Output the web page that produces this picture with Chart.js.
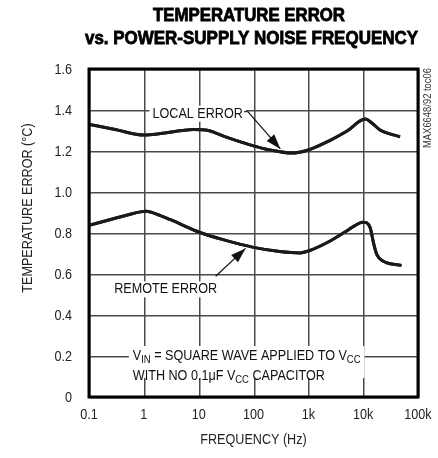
<!DOCTYPE html>
<html>
<head>
<meta charset="utf-8">
<script src="https://cdn.jsdelivr.net/npm/chart.js@4.4.1/dist/chart.umd.min.js"></script>
<style>
  html, body { margin: 0; padding: 0; background: #fff; }
  #wrap { width: 438px; height: 458px; }
</style>
</head>
<body>
<div id="wrap"><canvas id="errChart" width="438" height="458"></canvas></div>
<script>
// Values (frequency in Hz, error in degC)
var localFreq = [0.1, 0.3, 1, 2, 5, 8, 15, 30, 100, 200, 500, 1000, 2500, 5000, 10900, 14400, 20000, 47000];
var localErr  = [1.33, 1.305, 1.278, 1.285, 1.30, 1.305, 1.30, 1.27, 1.225, 1.205, 1.19, 1.205, 1.252, 1.296, 1.356, 1.337, 1.304, 1.269];

var remoteFreq = [0.1, 0.3, 0.5, 1.1, 2, 3, 10, 30, 100, 300, 700, 1000, 2500, 5000, 10000, 13400, 15400, 17700, 23000, 50000];
var remoteErr  = [0.837, 0.872, 0.888, 0.906, 0.885, 0.866, 0.805, 0.765, 0.73, 0.71, 0.703, 0.712, 0.761, 0.81, 0.853, 0.826, 0.753, 0.696, 0.663, 0.642];

var xTickValues = [0.1, 1, 10, 100, 1000, 10000, 100000];
var xTickLabels = ['0.1', '1', '10', '100', '1k', '10k', '100k'];
var yTickValues = [0, 0.2, 0.4, 0.6, 0.8, 1.0, 1.2, 1.4, 1.6];
var yTickLabels = ['0', '0.2', '0.4', '0.6', '0.8', '1.0', '1.2', '1.4', '1.6'];

var FONT = "'Liberation Sans', Arial, sans-serif";
var NARROW = 0.9;   // the original uses a narrow Helvetica

// Draw text squeezed horizontally; align is 'left' | 'center' | 'right'
function narrowText(ctx, text, x, y, font, align, sx, heavy) {
    ctx.save();
    ctx.font = font;
    var w = ctx.measureText(text).width * sx;
    var x0 = align === 'center' ? x - w / 2 : (align === 'right' ? x - w : x);
    ctx.translate(x0, y);
    ctx.scale(sx, 1);
    ctx.textAlign = 'left';
    ctx.fillText(text, 0, 0);
    if (heavy) {
        ctx.lineWidth = heavy;
        ctx.strokeStyle = ctx.fillStyle;
        ctx.strokeText(text, 0, 0);
    }
    ctx.restore();
    return w;
}

// Mixed normal/subscript text, left aligned
function drawRich(ctx, parts, x, y, size) {
    parts.forEach(function(p) {
        var s = p.sub ? size * 0.75 : size;
        x += narrowText(ctx, p.t, x, p.sub ? y + size * 0.3 : y, s + 'px ' + FONT, 'left', NARROW);
    });
    return x;
}

function richWidth(ctx, parts, size) {
    var w = 0;
    parts.forEach(function(p) {
        ctx.font = (p.sub ? size * 0.75 : size) + 'px ' + FONT;
        w += ctx.measureText(p.t).width * NARROW;
    });
    return w;
}

function arrow(ctx, x1, y1, x2, y2) {
    ctx.beginPath();
    ctx.moveTo(x1, y1);
    ctx.lineTo(x2, y2);
    ctx.lineWidth = 1.2;
    ctx.strokeStyle = '#111';
    ctx.stroke();
    var a = Math.atan2(y2 - y1, x2 - x1);
    var len = 15, half = 5;
    ctx.beginPath();
    ctx.moveTo(x2, y2);
    ctx.lineTo(x2 - len * Math.cos(a) + half * Math.sin(a), y2 - len * Math.sin(a) - half * Math.cos(a));
    ctx.lineTo(x2 - len * Math.cos(a) - half * Math.sin(a), y2 - len * Math.sin(a) + half * Math.cos(a));
    ctx.closePath();
    ctx.fillStyle = '#111';
    ctx.fill();
}

function whiteBox(ctx, x, y, w, h) {
    ctx.fillStyle = '#fff';
    ctx.fillRect(x, y, w, h);
}

// decade and 0.2 degC grid, as 1px strips
function drawGrid(chart) {
    var ctx = chart.ctx, a = chart.chartArea;
    var xs = chart.scales.x, ys = chart.scales.y;
    var top = Math.round(a.top), bottom = Math.round(a.bottom);
    var left = Math.round(a.left), right = Math.round(a.right);
    ctx.save();
    ctx.fillStyle = '#4a4a4a';
    xTickValues.forEach(function(v) {
        var px = Math.round(xs.getPixelForValue(v));
        ctx.fillRect(px, top, 1.5, bottom - top);
    });
    yTickValues.forEach(function(v) {
        var py = Math.round(ys.getPixelForValue(v));
        ctx.fillRect(left, py, right - left, 1.5);
    });
    ctx.restore();
}

function drawNotes(chart) {
    var ctx = chart.ctx;
    var xs = chart.scales.x, ys = chart.scales.y;
    var f14 = '14px ' + FONT;
    ctx.save();
    ctx.textBaseline = 'middle';

    // LOCAL ERROR label + arrow
    ctx.font = f14;
    var lx = xs.getPixelForValue(9.6), ly = ys.getPixelForValue(1.382);
    var lw = ctx.measureText('LOCAL ERROR').width * NARROW;
    whiteBox(ctx, lx - lw / 2 - 3, ly - 8, lw + 6, 16);
    ctx.fillStyle = '#111';
    narrowText(ctx, 'LOCAL ERROR', lx, ly, f14, 'center', NARROW);
    ctx.beginPath();
    ctx.moveTo(lx + lw / 2 + 1, ly - 2);
    ctx.lineTo(lx + lw / 2 + 5, ly - 2);
    ctx.lineWidth = 1;
    ctx.strokeStyle = '#111';
    ctx.stroke();
    arrow(ctx, lx + lw / 2 + 5, ly - 2, xs.getPixelForValue(309), ys.getPixelForValue(1.21));

    // REMOTE ERROR label + arrow
    ctx.font = f14;
    var rx = xs.getPixelForValue(2.5), ry = ys.getPixelForValue(0.525);
    var rw = ctx.measureText('REMOTE ERROR').width * NARROW;
    whiteBox(ctx, rx - rw / 2 - 3, ry - 8, rw + 6, 16);
    ctx.fillStyle = '#111';
    narrowText(ctx, 'REMOTE ERROR', rx, ry, f14, 'center', NARROW);
    arrow(ctx, xs.getPixelForValue(20.4), ys.getPixelForValue(0.589), xs.getPixelForValue(71.6), ys.getPixelForValue(0.725));

    // Test-condition note
    var line1 = [{ t: 'V' }, { t: 'IN', sub: true }, { t: ' = SQUARE WAVE APPLIED TO V' }, { t: 'CC', sub: true }];
    var line2 = [{ t: 'WITH NO 0.1\u03BCF V' }, { t: 'CC', sub: true }, { t: ' CAPACITOR' }];
    var nx = xs.getPixelForValue(0.63);
    var ny1 = ys.getPixelForValue(0.2), ny2 = ny1 + 20;
    var w1 = richWidth(ctx, line1, 14);
    whiteBox(ctx, nx - 4, ny1 - 10, w1 + 8, ys.bottom - ny1 - 9);
    ctx.fillStyle = '#111';
    drawRich(ctx, line1, nx, ny1, 14);
    drawRich(ctx, line2, nx, ny2, 14);
    ctx.restore();
}

function drawOuterText(chart) {
    var ctx = chart.ctx, a = chart.chartArea;
    var xs = chart.scales.x, ys = chart.scales.y;
    var f14 = '14px ' + FONT;
    ctx.save();
    ctx.textBaseline = 'middle';
    ctx.fillStyle = '#222';
    // tick labels, placed through the scales
    xTickValues.forEach(function(v, i) {
        narrowText(ctx, xTickLabels[i], xs.getPixelForValue(v), a.bottom + 18, f14, 'center', NARROW);
    });
    yTickValues.forEach(function(v, i) {
        narrowText(ctx, yTickLabels[i], a.left - 17, ys.getPixelForValue(v) + 1, f14, 'right', NARROW);
    });

    // title, heavy and condensed
    ctx.fillStyle = '#000';
    var tf = '900 18px ' + FONT;
    ctx.font = tf;
    var t1 = 'TEMPERATURE ERROR', t2 = 'vs. POWER-SUPPLY NOISE FREQUENCY';
    narrowText(ctx, t1, 249, 16, tf, 'center', 192 / ctx.measureText(t1).width, 0.8);
    ctx.font = tf;
    narrowText(ctx, t2, 251.5, 39, tf, 'center', 333 / ctx.measureText(t2).width, 0.8);

    // axis titles
    ctx.fillStyle = '#222';
    narrowText(ctx, 'FREQUENCY (Hz)', (a.left + a.right) / 2, 440, f14, 'center', NARROW);
    ctx.save();
    ctx.translate(28, 208);
    ctx.rotate(-Math.PI / 2);
    narrowText(ctx, 'TEMPERATURE ERROR (\u00B0C)', 0, 0, f14, 'center', NARROW);
    ctx.restore();

    // figure code on the right edge
    ctx.save();
    ctx.fillStyle = '#333';
    ctx.translate(428, 108);
    ctx.rotate(-Math.PI / 2);
    var cf = '10px ' + FONT;
    ctx.font = cf;
    narrowText(ctx, 'MAX6648/92 toc06', 0, 0, cf, 'center', 80 / ctx.measureText('MAX6648/92 toc06').width);
    ctx.restore();
    ctx.restore();
}

var decorPlugin = {
    id: 'decor',
    afterDraw: function(chart) {
        var ctx = chart.ctx, a = chart.chartArea;

        // text outside the plot first
        drawOuterText(chart);

        // then grid, the curves again on top of it, the call-outs and the frame
        drawGrid(chart);
        chart.getSortedVisibleDatasetMetas().forEach(function(meta) {
            meta.controller.draw();
        });
        drawNotes(chart);

        ctx.save();
        ctx.lineWidth = 3;
        ctx.strokeStyle = '#000';
        ctx.strokeRect(a.left, a.top, a.right - a.left, a.bottom - a.top);
        ctx.restore();
    }
};

var ctx = document.getElementById('errChart').getContext('2d');
var chart = new Chart(ctx, {
    type: 'line',
    data: {
        datasets: [{
            label: 'LOCAL ERROR',
            data: localFreq.map(function(f, i) { return { x: f, y: localErr[i] }; }),
            borderColor: '#1a1a1a',
            borderWidth: 3,
            pointRadius: 0,
            cubicInterpolationMode: 'monotone',
            fill: false
        }, {
            label: 'REMOTE ERROR',
            data: remoteFreq.map(function(f, i) { return { x: f, y: remoteErr[i] }; }),
            borderColor: '#1a1a1a',
            borderWidth: 3,
            pointRadius: 0,
            cubicInterpolationMode: 'monotone',
            fill: false
        }]
    },
    options: {
        responsive: false,
        animation: false,
        events: [],
        layout: { padding: { left: 0, top: 69, right: 20, bottom: 0 } },
        plugins: {
            legend: { display: false },
            tooltip: { enabled: false },
            title: { display: false }
        },
        scales: {
            x: {
                type: 'logarithmic',
                min: 0.1,
                max: 100000,
                afterBuildTicks: function(scale) {
                    scale.ticks = xTickValues.map(function(v) { return { value: v }; });
                },
                afterFit: function(scale) {
                    scale.height = 61;
                    scale.paddingLeft = 0;
                    scale.paddingRight = 0;
                },
                ticks: { display: false },
                grid: { display: false },
                border: { display: false }
            },
            y: {
                min: 0,
                max: 1.6,
                afterFit: function(scale) { scale.width = 89; },
                ticks: { display: false },
                grid: { display: false },
                border: { display: false }
            }
        }
    },
    plugins: [decorPlugin]
});
</script>
</body>
</html>
